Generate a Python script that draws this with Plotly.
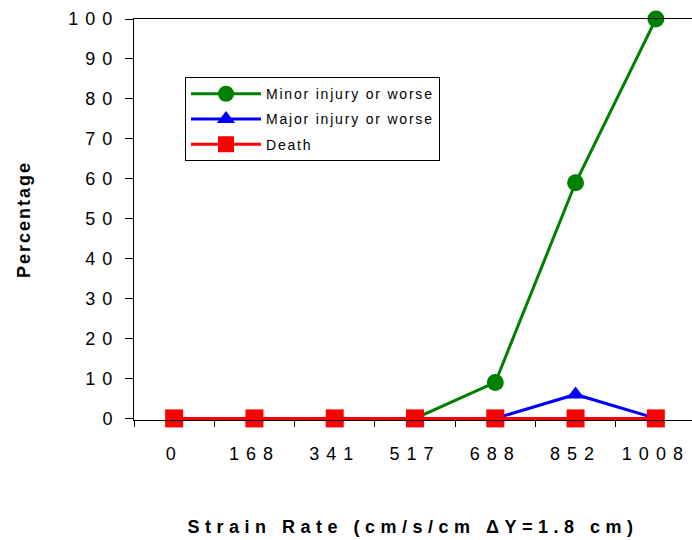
import plotly.graph_objects as go

# strain rate categories (cm/s/cm, dY = 1.8 cm)
strain_rate = ["0", "168", "341", "517", "688", "852", "1008"]
minor_or_worse = [0, 0, 0, 0, 9, 59, 100]
major_or_worse = [0, 0, 0, 0, 0, 6, 0]
death = [0, 0, 0, 0, 0, 0, 0]

FONT = "Arial, Liberation Sans, sans-serif"

fig = go.Figure()
fig.add_trace(go.Scatter(
    x=strain_rate, y=minor_or_worse, name="Minor injury or worse",
    mode="lines+markers", legendgroup="a",
    line=dict(color="#008000", width=3),
    marker=dict(symbol="circle", size=17, color="#008000"),
    cliponaxis=False,
))
fig.add_trace(go.Scatter(
    x=strain_rate, y=major_or_worse, name="Major injury or worse",
    mode="lines+markers", legendgroup="b",
    line=dict(color="#0000ff", width=3),
    marker=dict(symbol="triangle-up", size=16, color="#0000ff"),
    cliponaxis=False,
))
fig.add_trace(go.Scatter(
    x=strain_rate, y=death, name="Death",
    mode="lines+markers", legendgroup="c",
    line=dict(color="#ff0000", width=3),
    marker=dict(symbol="square", size=18, color="#ff0000"),
    cliponaxis=False,
))

fig.update_layout(
    width=692, height=540,
    margin=dict(l=134, r=0, t=19, b=120),
    paper_bgcolor="white", plot_bgcolor="white",
    font=dict(family=FONT, color="black"),
    hovermode=False,
    showlegend=True,
    legend=dict(
        x=0.0914, y=0.855, xanchor="left", yanchor="top",
        bgcolor="white", bordercolor="black", borderwidth=1,
        font=dict(size=14, family=FONT),
        itemwidth=70, tracegroupgap=4, traceorder="grouped",
    ),
)
fig.update_xaxes(
    type="category", range=[-0.5, 6.45],
    showline=True, linecolor="black", linewidth=1, mirror=True,
    ticks="outside", tickson="boundaries", ticklen=6, tickcolor="black",
    showgrid=False, zeroline=False,
    tickfont=dict(size=18), ticklabelstandoff=17,
    title=dict(text="Strain Rate (cm/s/cm ΔY=1.8 cm)",
               font=dict(size=18, weight="bold"),
               standoff=57),
)
fig.update_yaxes(
    range=[-0.4, 100], tickvals=list(range(0, 101, 10)),
    showline=True, linecolor="black", linewidth=1,
    ticks="outside", ticklen=8, tickcolor="black",
    showgrid=False, zeroline=False,
    tickfont=dict(size=18), ticklabelstandoff=2,
    title=dict(text="Percentage", font=dict(size=18, weight="bold"), standoff=54),
)

# the original's text is spread out; re-measure the legend after adding spacing
post = """
document.body.style.margin = '0';
var gd = document.getElementById('{plot_id}');
var s = document.createElement('style');
s.textContent = '.xtick text, .ytick text {letter-spacing: 7px;} '
  + '.xtitle {letter-spacing: 5.5px;} .ytitle {letter-spacing: 2px;} '
  + '.legendtext {letter-spacing: 1.8px;}';
document.head.appendChild(s);
Plotly.relayout(gd, {'legend.font.size': 14.01});
"""

fig.write_html("out.html", post_script=post, config={"displayModeBar": False})
